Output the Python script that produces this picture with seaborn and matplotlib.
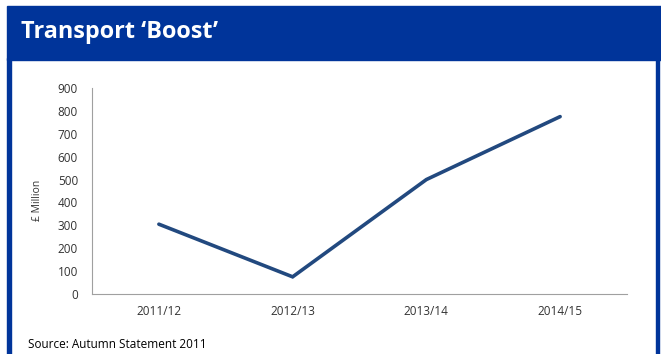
import matplotlib
matplotlib.use("Agg")
import matplotlib.pyplot as plt
from matplotlib.patches import Rectangle
import seaborn as sns
import pandas as pd

# Data
years = ["2011/12", "2012/13", "2013/14", "2014/15"]
spend = [305, 75, 500, 775]
y_ticks = [0, 100, 200, 300, 400, 500, 600, 700, 800, 900]

title = "Transport \u2018Boost\u2019"
y_label = "\u00a3 Million"
source = "Source: Autumn Statement 2011"

sns.set_theme(style="white")
plt.rcParams["font.family"] = ["Open Sans", "DejaVu Sans"]

W, H = 661, 354
fig = plt.figure(figsize=(W / 100, H / 100), dpi=100)
fig.patch.set_facecolor("white")

frame_blue = "#00349A"
# header bar and side borders
fig.patches.append(Rectangle((7 / W, 1 - 60 / H), 1 - 7 / W, 54 / H,
                             transform=fig.transFigure, color=frame_blue, zorder=0))
fig.patches.append(Rectangle((7 / W, 0), 4 / W, 1 - 58 / H,
                             transform=fig.transFigure, color=frame_blue, zorder=0))
fig.patches.append(Rectangle((656 / W, 0), 3 / W, 1 - 58 / H,
                             transform=fig.transFigure, color=frame_blue, zorder=0))
fig.text(21 / W, 1 - 32 / H, title, color="white", fontsize=16.8, fontweight="bold",
         ha="left", va="center")

ax = fig.add_axes([92 / W, 1 - 294 / H, (627 - 92) / W, (294 - 88) / H])
df = pd.DataFrame({"year": years, "spend": spend})
df["pos"] = range(len(years))
sns.lineplot(data=df, x="pos", y="spend", ax=ax, color="#22497F", linewidth=2.6,
             solid_capstyle="round", solid_joinstyle="miter", sort=False)

ax.set_xlim(-0.5, len(years) - 0.5)
ax.set_ylim(0, 900)
ax.set_yticks(y_ticks)
ax.set_yticklabels([str(v) for v in y_ticks])
ax.set_xticks(range(len(years)))
ax.set_xticklabels(years)
ax.set_xticks([i - 0.5 for i in range(len(years) + 1)], minor=True)
ax.tick_params(axis="x", which="major", length=0, pad=8, labelsize=8.5, labelcolor="#333333")
ax.tick_params(axis="x", which="minor", length=3, width=0.8, color="#A0A0A0", direction="out")
ax.tick_params(axis="y", which="major", length=4, width=0.8, color="#A0A0A0", direction="out",
               pad=6, labelsize=8.5, labelcolor="#333333")
ax.set_xlabel("")
ax.set_ylabel("")
for s in ["top", "right"]:
    ax.spines[s].set_visible(False)
for s in ["left", "bottom"]:
    ax.spines[s].set_color("#A0A0A0")
    ax.spines[s].set_linewidth(0.8)
ax.grid(False)
ax.set_facecolor("white")

fig.text(37 / W, 1 - 200 / H, y_label, rotation=90, fontsize=7.5, color="#333333",
         ha="center", va="center")
fig.text(28 / W, 1 - 345 / H, source, fontsize=8.5, color="black", ha="left", va="center")

fig.savefig("out.png", dpi=100)
